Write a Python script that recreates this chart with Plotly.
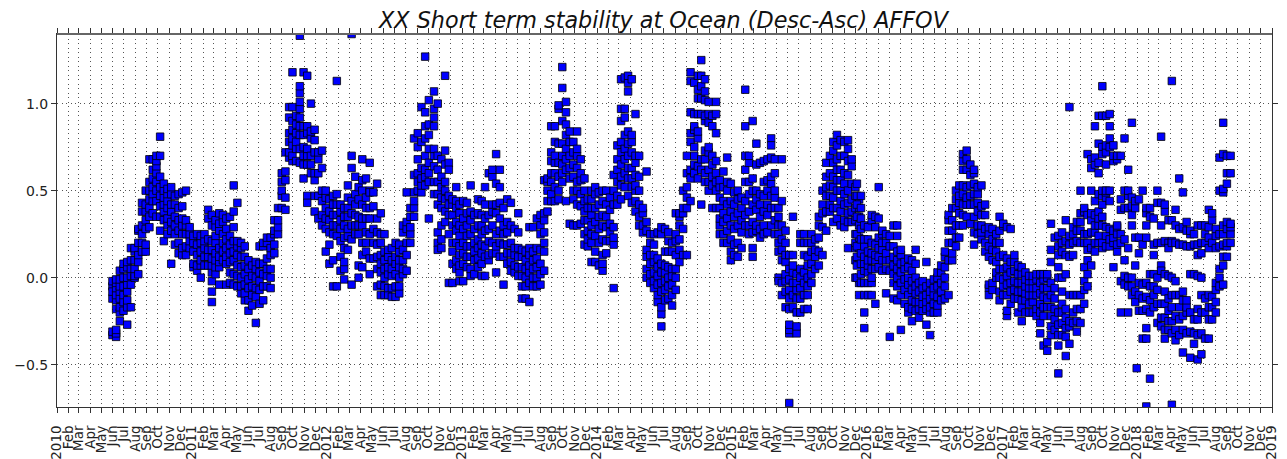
import pandas as pd
import plotly.graph_objects as go

TITLE = "XX Short term stability at Ocean (Desc-Asc) AFFOV"
MONTHS = ["Jan", "Feb", "Mar", "Apr", "May", "Jun", "Jul", "Aug", "Sep", "Oct", "Nov", "Dec"]
Y_TICKS = [-0.5, 0.0, 0.5, 1.0]

# Each entry: (days since 2010-01-01, [values read at that date])
period_2010 = [
(150,[-.33,-.31,-.12,-.05,-.02,-.08]),(160,[-.34,-.32,-.3,-.18,-.13,-.1,-.06,-.03,-.01]),
(170,[-.25,-.2,-.17,-.12,-.08,-.05,-.01,.04]),(180,[-.19,-.14,-.1,-.05,0,.05,.08]),
(190,[-.27,-.17,-.13,-.08,-.04,0,.06,.09]),(200,[-.17,-.04,.01,.05,.1,.17]),
(210,[0,.01,.05,.1,.15,.17]),(220,[.02,.09,.13,.2,.27,.28]),(230,[.15,.2,.25,.3,.38,.43]),
(240,[.15,.19,.28,.33,.38,.42,.5]),(250,[.29,.35,.4,.45,.5,.55,.68]),(259,[.37,.44,.48,.52,.57,.62,.68]),
(269,[.35,.44,.5,.55,.6,.64,.67,.7]),(279,[.27,.35,.41,.47,.52,.58,.7,.81]),(289,[.21,.33,.38,.42,.46,.5,.54]),
(299,[.25,.3,.34,.4,.44,.48,.51]),(309,[.08,.27,.32,.38,.42,.48,.52]),(319,[.19,.25,.3,.35,.42,.47]),
(329,[.14,.2,.27,.33,.4,.48]),(339,[.13,.17,.25,.3,.34,.41,.49]),(349,[.13,.18,.25,.3,.33,.5]),
(359,[.17,.21,.25,.29]),
]
period_2011 = [
(369,[.06,.08,.15,.2,.24]),(379,[.04,.07,.13,.19,.25]),(389,[0,.07,.1,.15,.2,.24]),(399,[.07,.12,.17,.21,.25]),
(409,[.07,.12,.16,.22,.34,.39]),(419,[-.14,-.08,-.02,.03,.07,.11,.16,.21,.3,.36]),
(429,[.02,.06,.1,.14,.2,.24,.29,.33]),(439,[-.04,.06,.09,.12,.17,.27,.31,.37]),(449,[.1,.15,.2,.25,.32,.36]),
(458,[-.04,.08,.12,.17,.22,.28,.34]),(468,[-.03,.03,.09,.14,.19,.24,.35]),(478,[-.04,.02,.1,.15,.21,.29,.38,.53]),
(488,[-.05,.01,.07,.13,.18,.21,.43]),(498,[-.09,-.05,0,.06,.12,.17,.2]),(508,[-.13,-.09,-.04,.02,.07,.12,.18]),
(518,[-.19,-.13,-.06,-.01,.05,.1]),(528,[-.16,-.1,-.05,.01,.07]),(538,[-.26,-.11,-.06,0,.05,.09]),
(548,[-.15,-.07,-.02,.03,.08,.18]),(558,[-.13,-.05,.02,.08,.18,.2]),(568,[-.05,.01,.05,.11,.2,.23]),
(578,[-.06,0,.05,.13,.17,.23]),(588,[.14,.19,.25,.27,.33]),(598,[.25,.29,.33,.4]),(608,[.4,.47,.5,.55,.6]),
(618,[.39,.46,.56,.61,.72]),(628,[.69,.72,.78,.83,.92,.98]),(637,[.67,.7,.76,.8,.85,.9,.98,1.18]),
(647,[.67,.74,.78,.83,.88,.93]),(657,[.66,.74,.82,.87,.92,.97,1.01,1.06,1.1,1.39]),
(667,[.65,.57,.7,.75,.82,.87,1.18]),(677,[.47,.43,.65,.7,.74,.83,.87,1.16]),(687,[.6,.65,.7,.8,.84,1.0]),
(697,[.47,.38,.56,.6,.72,.79,.85]),(707,[.34,.47,.6,.68,.72]),(717,[.3,.36,.44,.5,.63,.73]),
]
period_2012 = [
(727,[.15,.28,.34,.4,.46,.5]),(737,[.08,.19,.26,.33,.38,.45]),(747,[-.05,.1,.25,.3,.36,.42,.47]),
(757,[-.05,.24,.3,.36,.42,.48,1.13]),(767,[.04,.12,.21,.28,.33,.38,.42]),(777,[-.01,.05,.09,.17,.23,.3,.35,.4]),
(787,[.16,.24,.28,.35,.4,.46,.53]),(797,[-.04,.22,.3,.37,.44,.63,.7,1.4]),(807,[.25,.3,.36,.42,.48,.58]),
(816,[0,.07,.25,.3,.35,.45,.52]),(826,[.06,.13,.2,.3,.34,.42,.5,.56,.68]),(836,[.15,.2,.26,.34,.4,.46,.57]),
(846,[.02,.11,.25,.34,.4,.5,.66,.49]),(856,[.11,.2,.28,.41,.49]),(866,[-.05,.05,.12,.19,.26,.34,.54]),
(876,[-.1,-.04,.03,.08,.13,.2,.25,.37]),(886,[-.1,-.05,0,.05,.1,.15,.25]),(896,[-.1,-.06,.02,.06,.12,.16]),
(906,[-.11,-.06,.01,.05,.1,.17]),(916,[-.11,-.05,.02,.08,.12,.2]),(926,[-.09,-.05,0,.06,.1,.15,.19]),
(936,[.02,.05,.1,.16,.26,.3]),(946,[.04,.13,.2,.28,.32,.49]),(956,[.2,.25,.29,.35,.4]),
(966,[.35,.4,.44,.49,.59,.8]),(976,[.5,.55,.6,.68,.75,.83]),(986,[.49,.53,.57,.63,.78,.98]),
(996,[.53,.58,.62,.7,.8,.87,.95,1.27]),(1006,[.34,.55,.6,.66,.74,.82,.88,1.02]),
(1020,[.48,.55,.64,.7,.74,.87,.92,.97,1.07]),(1030,[.2,.16,.26,.42,.48,.55,.62,.7,1.0]),
(1040,[.17,.22,.3,.4,.46,.52,.58,.68]),(1050,[1.16,.73,.65,.55,.5,.45,.38,.32]),
(1060,[.66,.62,.47,.42,.36,.25,-.03]),(1070,[-.03,.08,.15,.2,.3,.36,.42,.45]),
(1080,[.52,.44,.4,.32,.27,.2,.1,.05]),(1089,[-.02,.03,.07,.13,.18,.24,.3,.37,.42]),
]
period_2013 = [
(1099,[-.02,.08,.14,.2,.28,.34,.44]),(1109,[.06,.12,.18,.24,.3,.37,.43]),(1119,[.53,.01,.05,.12,.18,.25,.33,.38]),
(1129,[.02,.1,.15,.2,.28,.36]),(1139,[.06,.11,.17,.22,.3,.37,.45]),(1149,[.01,.08,.14,.19,.25,.3,.36,.44]),
(1158,[.01,.12,.18,.27,.34,.42,.52]),(1168,[.1,.13,.21,.28,.36,.6]),(1178,[.14,.2,.3,.38,.42,.58,.62]),
(1188,[.03,.14,.18,.25,.37,.42,.54,.71]),(1198,[.12,.2,.27,.34,.43,.52,.62]),(1208,[-.04,.12,.19,.25,.3,.4]),
(1218,[.08,.14,.19,.26,.32,.45]),(1228,[.04,.09,.14,.2,.3,.43]),(1238,[.03,.07,.13,.17,.28]),
(1248,[.01,.06,.12,.17,.26,.37]),(1258,[-.12,-.05,.01,.06,.12,.16]),(1268,[-.12,-.05,0,.05,.1,.15]),
(1278,[-.14,-.03,.03,.07,.13,.17,.29]),(1288,[-.05,0,.05,.1,.15,.29]),(1298,[-.05,0,.06,.11,.17,.34]),
(1308,[-.04,.02,.08,.16,.25,.3,.36]),(1318,[.04,.15,.2,.26,.33,.37,.56]),(1327,[.38,.44,.5,.55,.57]),
(1337,[.44,.48,.55,.6,.67,.72,.87]),(1347,[.44,.52,.6,.66,.7,.78,.87]),(1357,[.45,.5,.58,.66,.77,.97,.99]),
(1367,[.55,.6,.65,.7,.77,.9,1.21,1.09]),(1377,[.44,.62,.68,.74,.82,.88,.95,1.01]),(1387,[.31,.57,.63,.7,.78,.84]),
(1397,[.3,.45,.5,.58,.65,.72,.78]),(1407,[.3,.42,.5,.55,.63,.7,.74,.84]),(1417,[.31,.41,.48,.56,.6,.68]),
(1427,[.19,.25,.33,.38,.44,.5,.57]),(1436,[.18,.22,.27,.33,.4,.45]),(1446,[.09,.2,.25,.3,.36,.4,.45,.5]),
]
period_2014 = [
(1456,[.09,.15,.24,.32,.4,.48,.52]),(1466,[.07,.2,.28,.35,.42,.49]),(1476,[.04,.08,.13,.22,.3,.36,.44,.5]),
(1486,[.14,.21,.29,.35,.42,.5]),(1496,[.21,.26,.31,.39,.46]),(1506,[-.06,.19,.23,.29,.42,.5,.59]),
(1516,[.42,.47,.55,.62,.68,.76]),(1526,[.45,.53,.58,.65,.72,.78,.9,.97,1.14]),
(1536,[.52,.6,.68,.74,.82,.92,.97,1.15]),(1545,[.47,.57,.63,.7,.77,.84,1.07,1.12,1.16]),
(1555,[.43,.52,.57,.63,.72,.78,.82,1.14]),(1565,[.38,.44,.5,.53,.59,.66,.7,.94]),(1575,[.3,.35,.42,.5,.58,.7]),
(1585,[.26,.3,.37,.4]),(1595,[0,.05,.12,.16,.27,.32,.61]),(1605,[-.03,.02,.08,.13,.2,.25]),
(1615,[-.06,-.02,.03,.09,.13,.19,.25]),(1625,[-.14,-.1,-.04,.01,.06,.11,.26]),
(1635,[-.28,-.21,-.17,-.08,-.03,.03,.08,.25,.29]),(1645,[-.13,-.07,-.02,.03,.07,.15,.28]),
(1654,[-.12,-.05,0,.06,.15,.21,.26]),(1664,[-.16,-.1,-.04,.01,.05,.15,.2]),(1674,[-.07,0,.05,.13,.21,.25,.37]),
(1684,[.09,.16,.22,.3,.35,.37]),(1694,[.13,.28,.37,.4,.5]),(1704,[.13,.4,.46,.52,.6,.7]),
(1714,[.44,.57,.62,.78,.83,.95,1.13,1.18]),(1724,[.6,.65,.7,.75,.85,.87,.94,1.12]),
(1734,[.57,.64,.8,.84,.94,1.03,1.08,1.16]),(1743,[.42,.62,.68,.94,1.1,1.25,1.16,1.03]),
(1753,[.55,.6,.68,.73,.9,.93,1.02,1.07,1.14]),(1763,[.5,.55,.62,.72,.75,.89,.94,1.01]),
(1773,[.4,.53,.58,.65,.7,.87,.93]),(1783,[.4,.5,.55,.6,.67,.83,.94,1.01]),(1793,[.25,.3,.34,.4,.46,.52,.56]),
(1803,[.2,.25,.32,.37,.44,.52,.61]),
]
period_2015 = [
(1813,[.2,.27,.34,.42,.5,.55,.69]),(1823,[.1,.15,.22,.3,.38,.44,.54]),(1832,[.13,.19,.28,.35,.42,.49]),
(1842,[.12,.2,.3,.37,.45,.5]),(1852,[.17,.26,.33,.4,.46]),(1862,[.3,.36,.44,.55,.62,.7,.87,1.08]),
(1872,[.25,.3,.38,.48,.55,.66,.7]),(1882,[.12,.17,.26,.32,.42,.5,.57,.9]),(1892,[.27,.3,.39,.45,.5,.65,.77]),
(1902,[.23,.28,.35,.42,.48,.66]),(1912,[.25,.3,.38,.47,.55,.67]),(1922,[.26,.36,.42,.5,.56,.68]),
(1932,[.3,.4,.47,.54,.58,.69,.8,.76]),(1942,[.25,.33,.4,.46,.5,.6,.68]),(1952,[0,-.02,.15,.2,.25,.3,.35,.4]),
(1961,[-.1,-.03,.1,.16,.22,.3,.44,.68]),(1971,[-.17,-.08,-.02,.02,.09,.13,.2,.27]),
(1981,[-.72,-.32,-.3,-.27,-.18,-.12,-.07,-.01,.05,.13]),(1991,[-.17,-.1,-.03,.03,.07,.13,.35]),
(2001,[-.32,-.28,-.2,-.12,-.07,-.03,.02]),(2011,[-.2,-.12,-.06,0,.05,.2,.25]),(2021,[-.18,-.1,-.03,.03,.13,.2,.25]),
(2031,[-.18,-.1,-.05,0,.07,.12,.2]),(2041,[-.03,.02,.08,.15,.2,.25]),(2051,[.05,.12,.16,.22]),
(2061,[.07,.15,.23,.3,.35]),(2071,[.13,.29,.37,.42,.5]),(2081,[.27,.38,.47,.52,.58,.66]),
(2091,[.38,.42,.47,.53,.6,.7]),(2100,[.32,.4,.46,.52,.58,.66,.73,.78]),(2110,[.34,.4,.5,.56,.62,.68,.76,.82]),
(2120,[.3,.38,.44,.5,.56,.62,.7,.79]),(2130,[.29,.33,.42,.48,.54,.6,.7,.78]),
(2140,[.17,.32,.37,.43,.5,.59,.67,.74,.79]),(2150,[.32,.38,.45,.54,.64,.68]),
(2160,[0,.1,.17,.2,.25,.33,.4,.47,.52]),(2170,[-.03,-.1,.1,.17,.23,.3,.35,.4,.45]),
(2164,[.54,.47,.42,.35,.25,.18,.12,.07,0]),(2175,[-.03,.02,.08,.14,.22,.28,.34,.4,.47]),
(2184,[-.2,-.29,-.1,-.03,.04,.08,.12,.18,.22,.3]),
]
period_2016 = [
(2194,[-.1,-.03,.03,.07,.1,.15,.22,.29]),(2204,[-.1,-.03,0,.05,.1,.14,.2,.33,.36]),
(2214,[-.15,.05,.1,.13,.19,.29,.35]),(2223,[.06,.12,.17,.23,.34,.52]),(2233,[.04,.1,.16,.2,.25,.27]),
(2243,[-.09,.05,.1,.14,.2,.25]),(2253,[-.34,.04,.1,.18,.24]),(2263,[-.12,-.03,.02,.07,.12,.18,.3]),
(2273,[-.13,-.05,0,.05,.1,.15,.24,.3]),(2283,[-.3,-.1,-.03,.03,.08,.13,.16]),(2293,[-.15,-.07,-.01,.05,.09]),
(2303,[-.2,-.17,-.1,-.04,0,.06,.11]),(2313,[-.25,-.18,-.13,-.07,-.02,.04,.1]),
(2323,[-.19,-.14,-.09,-.05,0,.08,.16]),(2332,[-.23,-.18,-.14,-.08,-.03]),(2342,[-.19,-.15,-.11,-.06,-.02]),
(2352,[-.27,-.18,-.14,-.1,-.05,.09]),(2362,[-.33,-.2,-.17,-.12,-.08,-.03]),(2372,[-.2,-.15,-.1,-.06,-.01]),
(2382,[-.2,-.16,-.11,-.05,0,.03]),(2392,[-.13,-.08,-.03,.03,.07]),(2402,[-.12,-.05,0,.06,.12,.15]),
(2412,[-.1,.1,.2,.27,.33,.36]),(2422,[.1,.14,.2,.27,.33,.4]),(2432,[.18,.23,.3,.4,.45,.5]),
(2441,[.23,.3,.37,.43,.47,.53]),(2451,[.3,.36,.42,.48,.53,.62,.67,.71]),(2461,[.35,.42,.46,.52,.62,.68,.73]),
(2471,[.31,.42,.47,.53,.59,.65]),(2481,[.19,.26,.35,.42,.48,.54,.6,.62]),(2491,[.25,.3,.38,.43,.48,.52]),
(2501,[.22,.26,.3,.36,.41,.53]),(2511,[.15,.2,.28,.36,.42]),(2521,[-.06,-.1,-.04,.12,.18,.25,.29]),
(2531,[-.07,-.03,.1,.16,.22,.28]),(2541,[0,.03,.09,.15,.2,.25]),
]
period_2017 = [
(2550,[-.13,-.08,0,.05,.12,.2,.27,.35]),(2560,[-.1,-.05,-.01,.05,.13,.3,.31]),
(2570,[-.22,-.19,-.1,-.04,.01,.06,.11,.29]),(2580,[-.15,-.08,-.03,.03,.09,.28]),
(2590,[-.12,-.07,-.02,.04,.09,.13]),(2600,[-.2,-.12,-.08,-.03,.02,.07]),(2610,[-.25,-.17,-.13,-.08,-.03,.02,.06]),
(2620,[-.2,-.13,-.09,-.05,-.01,.03]),(2630,[-.2,-.15,-.1,-.06,-.02,.01]),(2640,[-.2,-.14,-.1,-.06,-.02,.01]),
(2650,[-.22,-.18,-.1,-.06,-.01,.02]),(2660,[-.32,-.26,-.2,-.15,-.09,-.03,.02]),
(2669,[-.39,-.22,-.17,-.11,-.06,-.01,.02]),(2679,[-.42,-.37,-.17,-.12,-.06,0,.02]),
(2689,[-.33,-.28,-.22,-.17,-.1,-.03,.09,.16,.31]),(2699,[-.3,-.24,-.18,-.12,-.06,.23]),
(2709,[-.55,-.39,-.33,-.27,-.2,0,.06,.13,.18,.24]),(2719,[-.33,-.26,-.2,-.15,-.08,0,.15,.2,.26]),
(2729,[-.45,-.34,-.29,-.23,-.18,.02,.13,.21,.33]),(2739,[-.38,-.28,-.25,-.1,.12,.19,.24,.98]),
(2749,[-.26,-.2,-.1,.13,.2,.25,.29]),(2759,[-.31,-.25,-.18,-.1,.21,.27,.32]),
(2769,[-.26,-.18,-.1,.2,.27,.32,.37,.5]),(2779,[-.15,-.07,-.02,.06,.2,.25,.38,.4]),
(2788,[-.05,.02,.1,.16,.2,.25,.36,.71]),(2798,[.07,.17,.26,.33,.37,.5,.63,.68]),
(2808,[.15,.2,.26,.3,.36,.44,.65,.69,.87]),(2818,[.2,.24,.3,.34,.38,.48,.6,.66,.77,.93]),
(2828,[.17,.2,.3,.35,.42,.47,.5,.75,.71,.93,1.1]),(2838,[.18,.24,.29,.46,.49,.5,.65,.72,.76,.93]),
(2848,[.18,.22,.28,.44,.5,.75,.8,.94,.87]),(2858,[.06,.2,.23,.27,.67,.7,.76]),
(2868,[.15,.19,.25,.29,.3,.68,.7]),(2878,[-.02,-.2,.2,.25,.39,.45,.7]),(2888,[.01,-.04,.1,.22,.4,.5,.8]),
(2898,[-.2,-.05,0,.17,.47,.4,.5,.62]),(2908,[-.1,-.05,0,.3,.36,.41,.46,.89]),
]
period_2018 = [
(2917,[-.14,-.08,.07,.23,.4,.44]),(2921,[-.52]),(2927,[-.19,-.1,-.03,.14,.23,.45]),
(2937,[-.35,-.19,-.12,-.04,.19,.5]),(2947,[-.35,-.29,-.18,-.11,-.03,.23,.3,.37,.4,-.74]),
(2957,[-.58,-.2,-.13,-.05,.02,.35,.4]),(2967,[-.17,-.1,-.05,.02,.13,.19,.34]),
(2977,[-.26,-.15,-.07,0,.2,.5,.43]),(2987,[-.28,-.23,-.15,.07,.04,.2,.81,.43,.3]),
(2997,[-.35,-.3,-.23,-.15,-.08,.02,.21,.38,.42]),(3007,[-.3,-.25,-.19,-.12,.01,.2,.17,.33]),
(3016,[-.73,-.32,-.25,-.17,-.1,0,.21,.2,.33,1.13]),(3026,[-.36,-.3,-.22,-.1,-.02,.2,.3,.39]),
(3036,[-.33,-.24,-.17,-.1,.19,.28,.57]),(3046,[-.43,-.3,-.22,-.13,-.08,.19,.29,.49]),
(3056,[-.32,-.2,-.17,-.13,.18,.27,.32]),(3066,[-.46,-.31,-.2,.02,.18,.25,.27]),
(3076,[-.38,-.32,-.24,.02,.19,.25]),(3086,[-.47,-.33,-.24,-.18,.01,.13,.19,.3]),
(3096,[-.44,-.32,-.2,-.1,0,.14,.2,.3]),(3106,[-.35,-.2,-.12,.2,.25,.3]),
(3116,[-.35,-.24,-.17,-.1,.17,.23,.29,.39]),(3125,[-.24,-.17,-.11,.2,.33,.37]),
(3135,[-.2,-.14,-.07,-.03,.17,.24,.28]),(3145,[-.05,0,.05,.18,.25,.5,.69]),
(3155,[-.04,.07,.12,.19,.25,.3,.49,.51,.71,.89]),(3165,[.12,.18,.2,.28,.32,.54,.6,.7]),
(3175,[.2,.25,.29,.31,.6,.7]),
]

periods = [period_2010, period_2011, period_2012, period_2013, period_2014,
           period_2015, period_2016, period_2017, period_2018]

start = pd.Timestamp("2010-01-01")
xs, ys = [], []
for period in periods:
    for day, values in period:
        for v in values:
            xs.append(start + pd.Timedelta(days=day))
            ys.append(v)

month_ticks = pd.date_range("2010-01-01", "2019-01-01", freq="MS")
month_labels = [str(d.year) if d.month == 1 else MONTHS[d.month - 1] for d in month_ticks]

fig = go.Figure(go.Scatter(
    x=xs, y=ys, mode="markers", hoverinfo="skip",
    marker=dict(symbol="square", size=7.5, color="#0000ff", line=dict(color="black", width=0.8)),
))

FONT = "DejaVu Sans"
fig.update_layout(
    width=1279, height=451, autosize=False,
    margin=dict(l=48.5, r=14.5, t=25.5, b=51.5, pad=0),
    paper_bgcolor="white", plot_bgcolor="white", showlegend=False,
    font=dict(family=FONT, color="black", size=14),
    title=dict(text=f"<i>{TITLE}</i>", font=dict(family=FONT, size=22.3, color="#111111"),
               x=0.5125, xanchor="center", xref="container", y=0.973, yanchor="middle", yref="container"),
    shapes=[dict(type="line", xref="paper", yref="paper", x0=0, x1=1, y0=1, y1=1,
                 line=dict(color="#666666", width=2))],
)
axis_common = dict(
    automargin=False,
    showline=True, linecolor="#333333", linewidth=1, mirror="ticks",
    ticks="outside", ticklen=5, tickwidth=1, tickcolor="#333333",
    showgrid=True, gridcolor="#555555", gridwidth=1, griddash="1px,3.5px", zeroline=False,
)
fig.update_xaxes(type="date", range=["2010-01-01", "2019-01-01"], tickmode="array",
                 tickvals=list(month_ticks), ticktext=month_labels, tickangle=-90,
                 tickfont=dict(family=FONT, size=13.5, color="#222222"), ticklabelstandoff=7, **axis_common)
fig.update_yaxes(range=[-0.743, 1.40], tickmode="array", tickvals=Y_TICKS,
                 ticktext=[f"{v:.1f}".replace("-", "\u2212") for v in Y_TICKS],
                 tickfont=dict(family=FONT, size=14, color="#222222"), **axis_common)
fig.write_html("out.html")
